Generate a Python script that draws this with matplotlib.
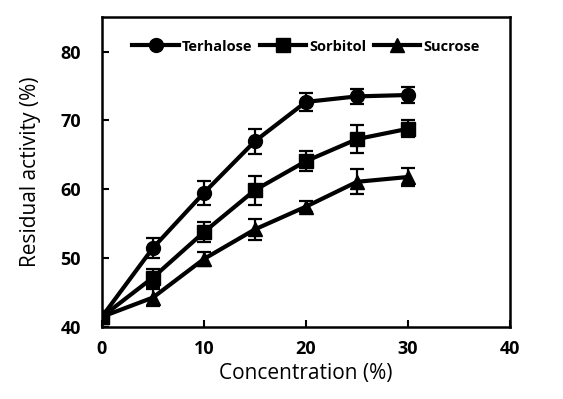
import matplotlib.pyplot as plt

conc = [0, 5, 10, 15, 20, 25, 30]

terhalose = [41.5, 51.5, 59.5, 67.0, 72.7, 73.5, 73.7]
terhalose_err = [0, 1.5, 1.7, 1.8, 1.3, 1.1, 1.2]

sorbitol = [41.5, 47.2, 53.8, 59.9, 64.1, 67.3, 68.8]
sorbitol_err = [0, 1.3, 1.4, 2.1, 1.5, 2.0, 1.2]

sucrose = [41.5, 44.3, 49.9, 54.2, 57.5, 61.1, 61.8]
sucrose_err = [0, 1.2, 1.0, 1.5, 0.8, 1.8, 1.3]

plt.rcParams['font.family'] = ['Open Sans', 'DejaVu Sans']

fig = plt.figure(figsize=(5.63, 3.99), dpi=100)
ax = fig.add_axes([0.181, 0.180, 0.725, 0.777])

series = [
    (terhalose, terhalose_err, 'o', 'Terhalose', 10),
    (sorbitol, sorbitol_err, 's', 'Sorbitol', 9.5),
    (sucrose, sucrose_err, '^', 'Sucrose', 10),
]
for y, err, m, lab, ms in series:
    ax.errorbar(conc, y, yerr=err, color='black', marker=m, markersize=ms,
                linewidth=3, elinewidth=1.6, capsize=5, capthick=1.6, label=lab)

ax.set_xlim(0, 40)
ax.set_ylim(40, 85)
ax.set_xticks([0, 10, 20, 30, 40])
ax.set_yticks([40, 50, 60, 70, 80])
ax.tick_params(direction='in', length=5, width=1.5, labelsize=13)
ax.tick_params(axis='x', pad=9)
ax.tick_params(axis='y', pad=15)
for lbl in ax.get_xticklabels() + ax.get_yticklabels():
    lbl.set_fontweight('bold')
for s in ax.spines.values():
    s.set_linewidth(1.8)

ax.set_xlabel('Concentration (%)', fontsize=15, labelpad=4)
ax.set_ylabel('Residual activity (%)', fontsize=15, labelpad=14)

handles, labels = ax.get_legend_handles_labels()
handles = [h[0] for h in handles]
ax.legend(handles, labels, loc='upper center', bbox_to_anchor=(0.5, 0.97), ncol=3,
          frameon=False, handlelength=3.2, handletextpad=0.2, columnspacing=0.5,
          prop={'weight': 'bold', 'size': 10.5})

fig.savefig('out.png', dpi=100)
